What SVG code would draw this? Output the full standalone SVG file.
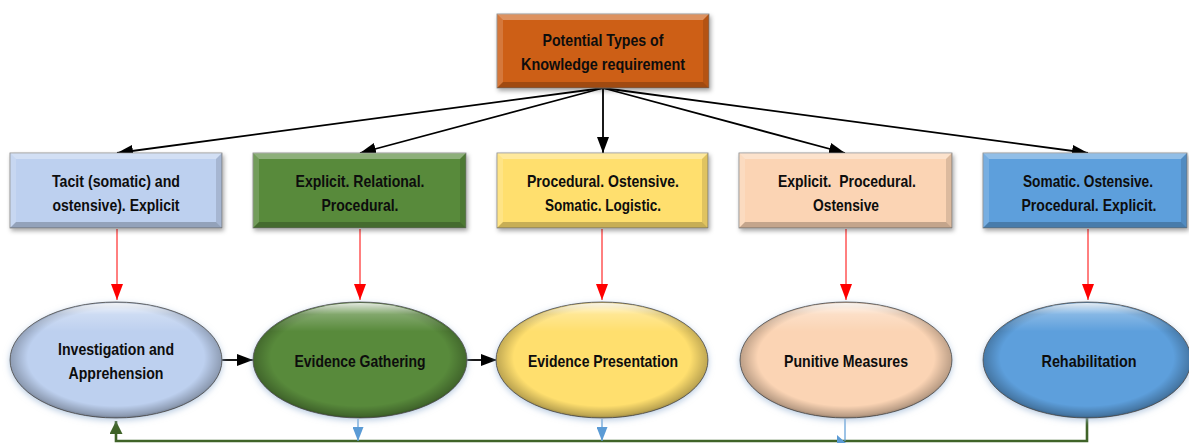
<svg xmlns="http://www.w3.org/2000/svg" width="1189" height="443" viewBox="0 0 1189 443">
  <defs>
    <style>
      text { font-family: "Liberation Sans", Arial, sans-serif; font-weight: bold; font-size: 16.5px; fill: #0d0d0d; text-anchor: middle; }
      .box { stroke: #7f7f7f; stroke-width: 0.8; filter: url(#shadow); }
      .lt { fill: #ffffff; opacity: 0.32; }
      .ls { fill: #ffffff; opacity: 0.16; }
      .dk { fill: #000000; opacity: 0.22; }
      .ds { fill: #000000; opacity: 0.12; }
      .oval { stroke: #6f6f6f; stroke-width: 1; filter: url(#glow); }
      .rim { fill: url(#rim); }
      .hi { fill: url(#hilite); }
      .tree { stroke: #000; stroke-width: 1.8; fill: none; marker-end: url(#blackHead); }
      .down { stroke: #ff0000; stroke-width: 1; fill: none; marker-end: url(#redHead); }
      .flow { stroke: #000; stroke-width: 1.8; fill: none; marker-end: url(#blackHead); }
      .loop { stroke: #3f6328; stroke-width: 2.6; fill: none; }
      .tap { stroke: #5b9bd5; stroke-width: 1.2; fill: none; marker-end: url(#blueHead); }
    </style>
    <filter id="shadow" x="-10%" y="-20%" width="125%" height="150%">
      <feDropShadow dx="1.5" dy="2.5" stdDeviation="2" flood-color="#000" flood-opacity="0.35"/>
    </filter>
    <filter id="glow" x="-10%" y="-15%" width="120%" height="135%">
      <feDropShadow dx="0" dy="2" stdDeviation="3" flood-color="#9db7d6" flood-opacity="0.7"/>
    </filter>
    <radialGradient id="rim" cx="50%" cy="48%" r="52%">
      <stop offset="0.80" stop-color="#000" stop-opacity="0"/>
      <stop offset="0.96" stop-color="#000" stop-opacity="0.25"/>
      <stop offset="1" stop-color="#000" stop-opacity="0.4"/>
    </radialGradient>
    <linearGradient id="hilite" x1="0" y1="0" x2="0" y2="1">
      <stop offset="0" stop-color="#fff" stop-opacity="0.85"/>
      <stop offset="0.1" stop-color="#fff" stop-opacity="0.25"/>
      <stop offset="0.25" stop-color="#fff" stop-opacity="0"/>
    </linearGradient>
    <marker id="blackHead" viewBox="0 0 10 10" refX="10" refY="5" markerWidth="16" markerHeight="12" markerUnits="userSpaceOnUse" orient="auto" preserveAspectRatio="none">
      <path d="M0,0 L10,5 L0,10 z" fill="#000"/>
    </marker>
    <marker id="redHead" viewBox="0 0 10 10" refX="10" refY="5" markerWidth="16" markerHeight="12" markerUnits="userSpaceOnUse" orient="auto" preserveAspectRatio="none">
      <path d="M0,0 L10,5 L0,10 z" fill="#ff0000"/>
    </marker>
    <marker id="blueHead" viewBox="0 0 10 10" refX="10" refY="5" markerWidth="14" markerHeight="11" markerUnits="userSpaceOnUse" orient="auto" preserveAspectRatio="none">
      <path d="M0,0 L10,5 L0,10 z" fill="#5b9bd5"/>
    </marker>
    <marker id="greenHead" viewBox="0 0 10 10" refX="10" refY="5" markerWidth="13" markerHeight="13" markerUnits="userSpaceOnUse" orient="auto" preserveAspectRatio="none">
      <path d="M0,0 L10,5 L0,10 z" fill="#3f6328"/>
    </marker>
  </defs>

  <!-- connectors -->
  <g id="connectors">
    <!-- root to knowledge boxes -->
    <line class="tree" x1="603" y1="88" x2="117" y2="153"/>
    <line class="tree" x1="603" y1="88" x2="360" y2="153"/>
    <line class="tree" x1="603" y1="88" x2="603" y2="153"/>
    <line class="tree" x1="603" y1="88" x2="845" y2="153"/>
    <line class="tree" x1="603" y1="88" x2="1088" y2="153"/>
    <!-- knowledge boxes to stages -->
    <line class="down" x1="117" y1="229" x2="117" y2="300"/>
    <line class="down" x1="360" y1="229" x2="360" y2="300"/>
    <line class="down" x1="602" y1="229" x2="602" y2="300"/>
    <line class="down" x1="846" y1="229" x2="846" y2="300"/>
    <line class="down" x1="1088" y1="229" x2="1088" y2="300"/>
    <!-- stage sequence -->
    <line class="flow" x1="222" y1="360" x2="253" y2="360"/>
    <line class="flow" x1="467" y1="360" x2="497" y2="360"/>
    <!-- feedback loop -->
    <path class="loop" d="M1087,417 V441 H116 V421" marker-end="url(#greenHead)"/>
    <line class="tap" x1="358" y1="419" x2="358" y2="441"/>
    <line class="tap" x1="602" y1="419" x2="602" y2="441"/>
    <line x1="845" y1="419" x2="845" y2="441" stroke="#5b9bd5" stroke-width="1.2"/>
    <path d="M837,435 L846,443 L837,443 z" fill="#5b9bd5"/>
  </g>

  <!-- root -->
  <g id="root">
    <rect class="box" x="497" y="14" width="212" height="74" fill="#cd5f18"/>
    <path class="lt" d="M497,14 h212 l-6,6 h-200 z"/>
    <path class="ls" d="M497,14 l6,6 v62 l-6,6 z"/>
    <path class="dk" d="M497,88 h212 l-6,-6 h-200 z"/>
    <path class="ds" d="M709,14 l-6,6 v62 l6,6 z"/>
    <text x="603" y="46" textLength="121" lengthAdjust="spacingAndGlyphs">Potential Types of</text>
    <text x="603" y="70" textLength="164" lengthAdjust="spacingAndGlyphs">Knowledge requirement</text>
  </g>

  <!-- knowledge boxes -->
  <g id="k1">
    <rect class="box" x="10" y="153" width="212" height="75" fill="#bdd0ef"/>
    <path class="lt" d="M10,153 h212 l-6,6 h-200 z"/>
    <path class="ls" d="M10,153 l6,6 v63 l-6,6 z"/>
    <path class="dk" d="M10,228 h212 l-6,-6 h-200 z"/>
    <path class="ds" d="M222,153 l-6,6 v63 l6,6 z"/>
    <text x="116" y="187" textLength="128" lengthAdjust="spacingAndGlyphs">Tacit (somatic) and</text>
    <text x="116" y="211" textLength="127" lengthAdjust="spacingAndGlyphs">ostensive). Explicit</text>
  </g>
  <g id="k2">
    <rect class="box" x="253" y="153" width="213" height="75" fill="#588a3b"/>
    <path class="lt" d="M253,153 h213 l-6,6 h-201 z"/>
    <path class="ls" d="M253,153 l6,6 v63 l-6,6 z"/>
    <path class="dk" d="M253,228 h213 l-6,-6 h-201 z"/>
    <path class="ds" d="M466,153 l-6,6 v63 l6,6 z"/>
    <text x="360" y="187" textLength="129" lengthAdjust="spacingAndGlyphs">Explicit. Relational.</text>
    <text x="360" y="211" textLength="77" lengthAdjust="spacingAndGlyphs">Procedural.</text>
  </g>
  <g id="k3">
    <rect class="box" x="497" y="153" width="211" height="75" fill="#ffdf6e"/>
    <path class="lt" d="M497,153 h211 l-6,6 h-199 z"/>
    <path class="ls" d="M497,153 l6,6 v63 l-6,6 z"/>
    <path class="dk" d="M497,228 h211 l-6,-6 h-199 z"/>
    <path class="ds" d="M708,153 l-6,6 v63 l6,6 z"/>
    <text x="603" y="187" textLength="152" lengthAdjust="spacingAndGlyphs">Procedural. Ostensive.</text>
    <text x="603" y="211" textLength="116" lengthAdjust="spacingAndGlyphs">Somatic. Logistic.</text>
  </g>
  <g id="k4">
    <rect class="box" x="739" y="153" width="213" height="75" fill="#fbd4b4"/>
    <path class="lt" d="M739,153 h213 l-6,6 h-201 z"/>
    <path class="ls" d="M739,153 l6,6 v63 l-6,6 z"/>
    <path class="dk" d="M739,228 h213 l-6,-6 h-201 z"/>
    <path class="ds" d="M952,153 l-6,6 v63 l6,6 z"/>
    <text x="847" y="187" textLength="138" lengthAdjust="spacingAndGlyphs" xml:space="preserve">Explicit.  Procedural.</text>
    <text x="846" y="211" textLength="66" lengthAdjust="spacingAndGlyphs">Ostensive</text>
  </g>
  <g id="k5">
    <rect class="box" x="983" y="153" width="204" height="75" fill="#5d9fdc"/>
    <path class="lt" d="M983,153 h204 l-6,6 h-192 z"/>
    <path class="ls" d="M983,153 l6,6 v63 l-6,6 z"/>
    <path class="dk" d="M983,228 h204 l-6,-6 h-192 z"/>
    <path class="ds" d="M1187,153 l-6,6 v63 l6,6 z"/>
    <text x="1088" y="187" textLength="130" lengthAdjust="spacingAndGlyphs">Somatic. Ostensive.</text>
    <text x="1089" y="211" textLength="135" lengthAdjust="spacingAndGlyphs">Procedural. Explicit.</text>
  </g>

  <!-- stages -->
  <g id="s1">
    <ellipse class="oval" cx="116" cy="360" rx="106" ry="58" fill="#bdd0ef"/>
    <ellipse class="rim" cx="116" cy="360" rx="106" ry="58"/>
    <ellipse class="hi" cx="116" cy="360" rx="104" ry="57"/>
    <text x="116" y="355" textLength="116" lengthAdjust="spacingAndGlyphs">Investigation and</text>
    <text x="116" y="379" textLength="95" lengthAdjust="spacingAndGlyphs">Apprehension</text>
  </g>
  <g id="s2">
    <ellipse class="oval" cx="360" cy="360" rx="107" ry="58" fill="#588a3b"/>
    <ellipse class="rim" cx="360" cy="360" rx="107" ry="58"/>
    <ellipse class="hi" cx="360" cy="360" rx="105" ry="57"/>
    <text x="360" y="367" textLength="131" lengthAdjust="spacingAndGlyphs">Evidence Gathering</text>
  </g>
  <g id="s3">
    <ellipse class="oval" cx="602" cy="360" rx="106" ry="58" fill="#ffdf6e"/>
    <ellipse class="rim" cx="602" cy="360" rx="106" ry="58"/>
    <ellipse class="hi" cx="602" cy="360" rx="104" ry="57"/>
    <text x="603" y="367" textLength="150" lengthAdjust="spacingAndGlyphs">Evidence Presentation</text>
  </g>
  <g id="s4">
    <ellipse class="oval" cx="846" cy="360" rx="106" ry="58" fill="#fbd4b4"/>
    <ellipse class="rim" cx="846" cy="360" rx="106" ry="58"/>
    <ellipse class="hi" cx="846" cy="360" rx="104" ry="57"/>
    <text x="846" y="367" textLength="124" lengthAdjust="spacingAndGlyphs">Punitive Measures</text>
  </g>
  <g id="s5">
    <ellipse class="oval" cx="1087" cy="360" rx="104" ry="58" fill="#5d9fdc"/>
    <ellipse class="rim" cx="1087" cy="360" rx="104" ry="58"/>
    <ellipse class="hi" cx="1087" cy="360" rx="102" ry="57"/>
    <text x="1089" y="367" textLength="95" lengthAdjust="spacingAndGlyphs">Rehabilitation</text>
  </g>
</svg>
